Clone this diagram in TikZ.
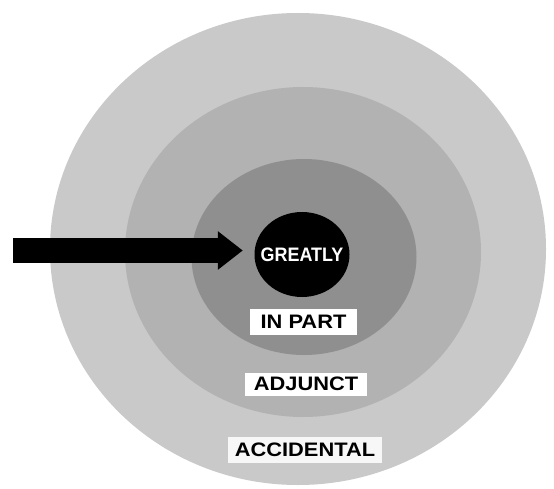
\documentclass[tikz,border=0pt]{standalone}
\usepackage{fontspec}
\setmainfont{Liberation Sans}
\usetikzlibrary{arrows.meta,shapes.geometric}
\begin{document}
\begin{tikzpicture}[x=1pt,y=-1pt,
  ring/.style={ellipse, draw=none, inner sep=0pt},
  lab/.style={fill=white, inner sep=0pt, text=black,
    font=\fontsize{19.5}{20}\selectfont\bfseries},
  bigarrow/.style={line width=25pt, -{Triangle[length=25pt,width=37pt]}}
]
\useasboundingbox (0,0) rectangle (554,489);
\fill[white] (0,0) rectangle (554,489);
\node[ring, fill=black!21, minimum width=496pt, minimum height=472pt] (accidental) at (298,249) {};
\node[ring, fill=black!30, minimum width=356pt, minimum height=330pt] (adjunct) at (303,252) {};
\node[ring, fill=black!44, minimum width=225pt, minimum height=196pt] (inpart) at (304,257) {};
\node[ring, fill=black, minimum width=95pt, minimum height=85pt] (greatly) at (302,254.5) {};
\node[inner sep=0pt, text=white, font=\fontsize{19.5}{20}\selectfont\bfseries]
  (greatlylab) at (greatly.center) {\scalebox{0.92}[1]{GREATLY}};
\node[lab, minimum width=107pt, minimum height=26pt] (inpartlab) at (303.5,322) {\scalebox{1.12}[1]{IN PART}};
\node[lab, minimum width=122pt, minimum height=23pt] (adjunctlab) at (306,384) {\scalebox{1.12}[1]{ADJUNCT}};
\node[lab, fill=white!85!black!20, minimum width=154pt, minimum height=26pt] (accidentallab) at (305,450) {\scalebox{1.12}[1]{ACCIDENTAL}};
\coordinate (tail) at (13,250.5);
\draw[bigarrow, shorten >=11.5pt] (tail) -- (tail -| greatly.west);
\end{tikzpicture}
\end{document}
